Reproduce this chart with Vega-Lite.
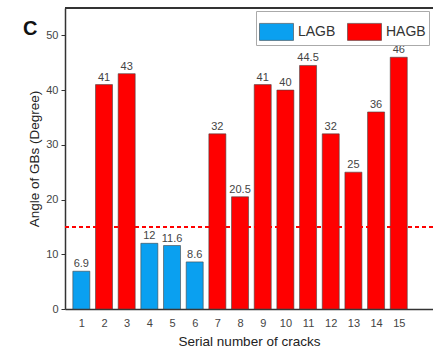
{
  "$schema": "https://vega.github.io/schema/vega-lite/v6.json",
  "width": 368,
  "height": 301,
  "autosize": "none",
  "padding": {"left": 65, "top": 8, "right": 0, "bottom": 45},
  "background": "white",
  "title": {"text": "C", "anchor": "start", "frame": "group", "orient": "top", "offset": 0, "dx": -42, "dy": 32, "fontSize": 20, "fontWeight": "bold", "color": "#111", "font": "Liberation Sans"},
  "config": {
    "view": {"stroke": null},
    "font": "Liberation Sans",
    "axis": {"domainColor": "#333", "domainWidth": 1.5, "tickColor": "#333", "labelColor": "#444", "titleColor": "#222", "labelFont": "Liberation Sans", "titleFont": "Liberation Sans", "titleFontWeight": "normal", "grid": false, "labelOverlap": false}
  },
  "data": {
    "values": [
      {"serial": 1, "angle": 6.9, "type": "LAGB"},
      {"serial": 2, "angle": 41, "type": "HAGB"},
      {"serial": 3, "angle": 43, "type": "HAGB"},
      {"serial": 4, "angle": 12, "type": "LAGB"},
      {"serial": 5, "angle": 11.6, "type": "LAGB"},
      {"serial": 6, "angle": 8.6, "type": "LAGB"},
      {"serial": 7, "angle": 32, "type": "HAGB"},
      {"serial": 8, "angle": 20.5, "type": "HAGB"},
      {"serial": 9, "angle": 41, "type": "HAGB"},
      {"serial": 10, "angle": 40, "type": "HAGB"},
      {"serial": 11, "angle": 44.5, "type": "HAGB"},
      {"serial": 12, "angle": 32, "type": "HAGB"},
      {"serial": 13, "angle": 25, "type": "HAGB"},
      {"serial": 14, "angle": 36, "type": "HAGB"},
      {"serial": 15, "angle": 46, "type": "HAGB"}
    ]
  },
  "layer": [
    {
      "encoding": {
        "x": {"field": "serial", "type": "quantitative",
          "scale": {"domain": [0.5, 16.29], "nice": false, "zero": false},
          "axis": {"values": [1,2,3,4,5,6,7,8,9,10,11,12,13,14,15], "labelOverlap": false, "tickSize": 0, "labelPadding": 8, "labelFontSize": 11, "title": "Serial number of cracks", "titleFontSize": 13.5, "titlePadding": 6, "labelFlush": false}},
        "y": {"field": "angle", "type": "quantitative",
          "scale": {"domain": [0, 55], "nice": false},
          "axis": {"values": [0,5,10,15,20,25,30,35,40,45,50], "labelExpr": "datum.value % 10 === 0 ? datum.label : ''",
            "tickSize": {"condition": {"test": "datum.value % 10 !== 0", "value": 2.5}, "value": 4},
            "labelPadding": 3, "labelFontSize": 11, "title": "Angle of GBs (Degree)", "titleFontSize": 13.5, "titlePadding": 4}}
      },
      "layer": [
        {
          "mark": {"type": "bar", "size": 17, "stroke": "#444", "strokeWidth": 0.6},
          "encoding": {
            "color": {"field": "type", "type": "nominal",
              "scale": {"domain": ["LAGB", "HAGB"], "range": ["#0aa0f0", "#ff0000"]},
              "legend": {"orient": "none", "legendX": 191, "legendY": 3, "direction": "horizontal", "title": null,
                "strokeColor": "#aaa", "fillColor": "white", "padding": 3,
                "symbolType": "M-1,-0.5H1V0.5H-1Z", "symbolSize": 1156, "symbolStrokeColor": "#444", "symbolStrokeWidth": 0.6, "symbolOpacity": 1,
                "labelFontSize": 14, "labelColor": "#333", "labelOffset": 4, "columnPadding": 10}}
          }
        },
        {
          "mark": {"type": "text", "baseline": "bottom", "dy": -2, "fontSize": 11, "color": "#444"},
          "encoding": {"text": {"field": "angle", "type": "quantitative"}}
        }
      ]
    },
    {
      "mark": {"type": "rule", "color": "#ff0000", "strokeDash": [4, 3], "strokeWidth": 1.2},
      "encoding": {"y": {"datum": 15}}
    },
    {
      "mark": {"type": "rule", "color": "#333", "strokeWidth": 1.5},
      "encoding": {"y": {"datum": 55}}
    }
  ]
}
